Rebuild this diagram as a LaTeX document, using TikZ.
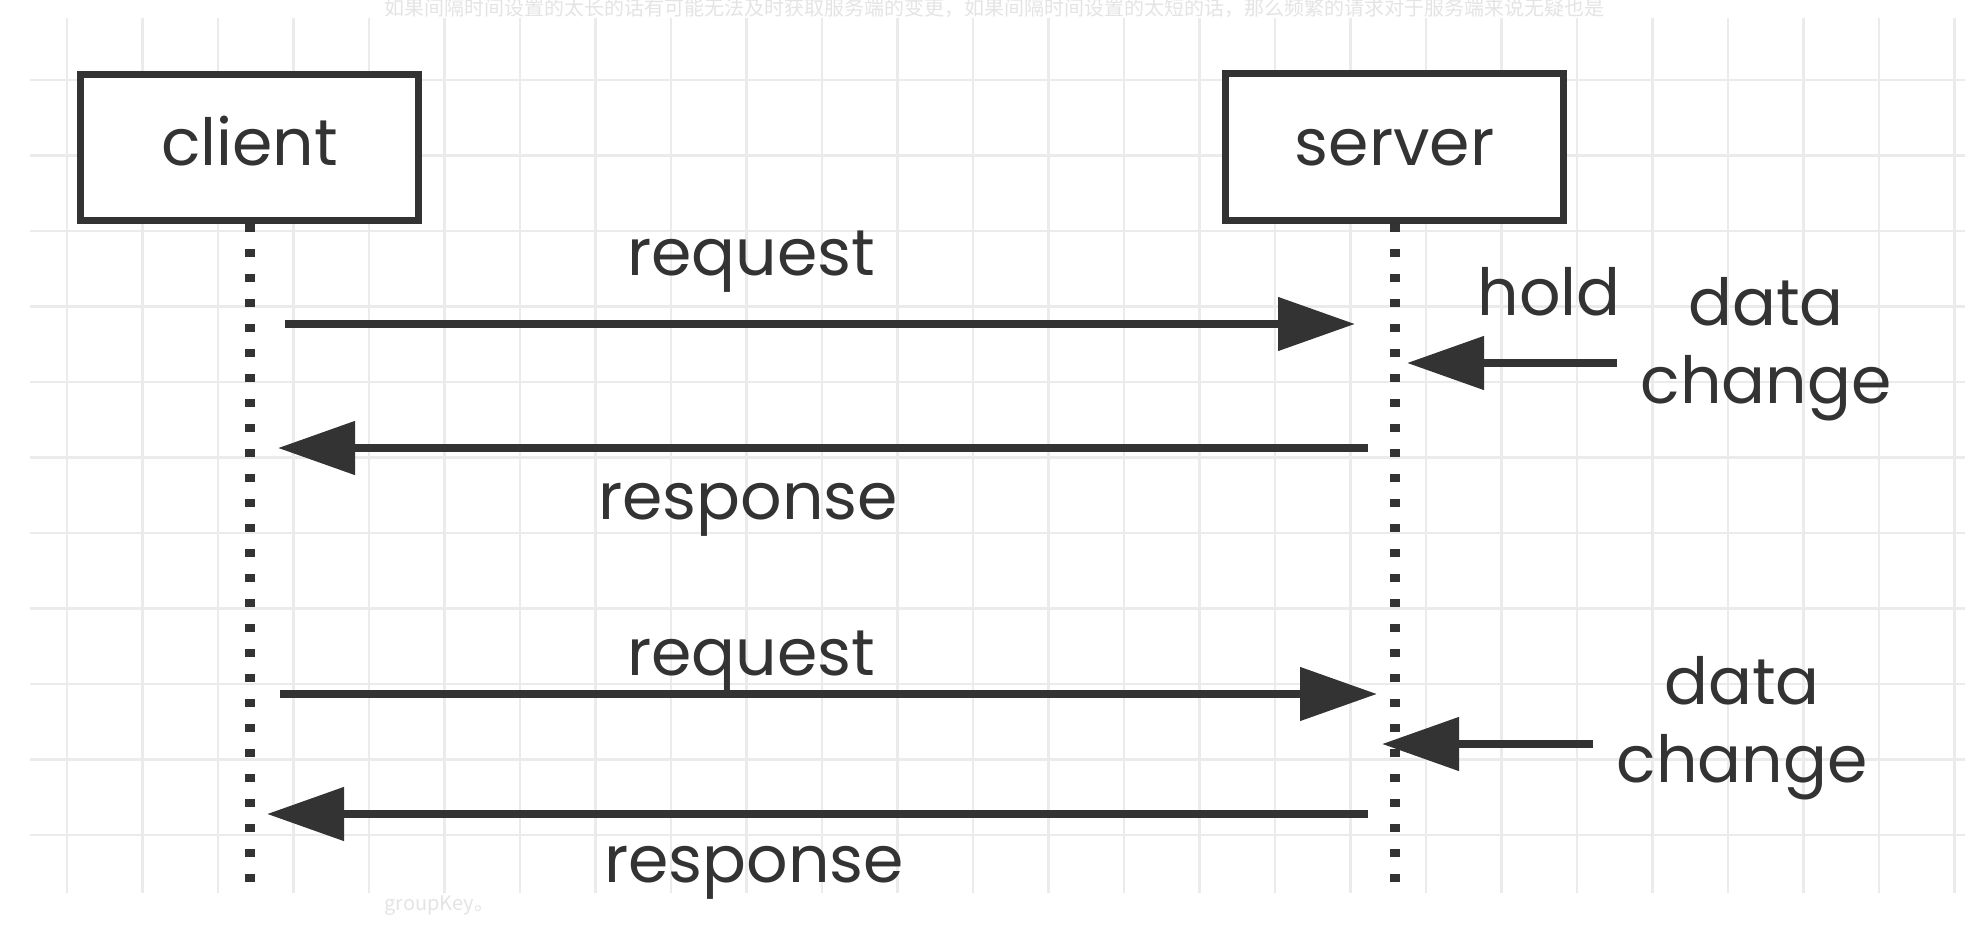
\documentclass[tikz,border=0pt]{standalone}
\usepackage{fontspec}
\setmainfont{Poppins}
\newfontfamily\cjk{Noto Sans CJK SC}
\usetikzlibrary{arrows.meta}
\definecolor{ink}{HTML}{333333}
\definecolor{gridc}{HTML}{EBEBEB}
\definecolor{ghost}{HTML}{E4E4E4}
\begin{document}
\begin{tikzpicture}[x=1pt,y=-1pt,
  actor/.style={draw=ink, line width=7pt, fill=white, minimum width=338pt, minimum height=146pt, inner sep=0pt, text height=36pt, text depth=0pt, font=\fontsize{65}{78}\selectfont, text=ink},
  lifeline/.style={draw=ink, line width=10pt, dash pattern=on 8pt off 17pt},
  msg/.style={draw=ink, line width=8pt, -{Triangle[length=77pt,width=52pt]}},
  lbl/.style={font=\fontsize{65}{78}\selectfont, text=ink, inner sep=0pt, anchor=base},
  gridline/.style={draw=gridc, line width=2.5pt},
  ghosttext/.style={font=\cjk\fontsize{20}{24}\selectfont, text=ghost, inner sep=0pt, anchor=base west}
]
\useasboundingbox (0,0) rectangle (1987,939);
\fill[white] (0,0) rectangle (1987,939);
\foreach \k in {0,...,25} \draw[gridline] ({67+75.5*\k},18) -- ({67+75.5*\k},893);
\foreach \k in {0,...,10} \draw[gridline] (30,{80+75.5*\k}) -- (1965,{80+75.5*\k});

\node[actor] (client) at (249.5,147.5) {client};
\node[actor] (server) at (1394.5,147) {server};
\coordinate (cend) at (249.5,884);
\coordinate (send) at (1394.5,884);
\draw[lifeline] (client.south) -- (cend);
\draw[lifeline] (server.south) -- (send);

\coordinate (cR1) at (249.5,324); \coordinate (sR1) at (1394.5,324);
\coordinate (sA1) at (1394.5,448); \coordinate (cA1) at (249.5,448);
\coordinate (dc1) at (1617,363); \coordinate (sD1) at (1394.5,363);
\coordinate (cR2) at (249.5,694); \coordinate (sR2) at (1394.5,694);
\coordinate (dc2) at (1593,744); \coordinate (sD2) at (1394.5,744);
\coordinate (sA2) at (1394.5,814); \coordinate (cA2) at (249.5,814);

\draw[msg, shorten <=35.5pt, shorten >=39.5pt] (cR1) -- (sR1);
\draw[msg, shorten <=26.5pt, shorten >=28.5pt] (sA1) -- (cA1);
\draw[msg, shorten >=12.5pt] (dc1) -- (sD1);
\draw[msg, shorten <=30.5pt, shorten >=17.5pt] (cR2) -- (sR2);
\draw[msg, shorten >=-12.5pt] (dc2) -- (sD2);
\draw[msg, shorten <=26.5pt, shorten >=17.5pt] (sA2) -- (cA2);

\node[lbl] (req1) at (751,275) {request};
\node[lbl] (resp1) at (748,519) {response};
\node[lbl] (req2) at (751,675) {request};
\node[lbl] (resp2) at (754,882) {response};
\node[lbl] (hold) at (1549,315) {hold};
\node[lbl, align=center] (dch1) at (1766,403) {data\\change};
\node[lbl, align=center] (dch2) at (1742,782) {data\\change};

\node[ghosttext] (note) at (384,16) {如果间隔时间设置的太长的话有可能无法及时获取服务端的变更，如果间隔时间设置的太短的话，那么频繁的请求对于服务端来说无疑也是};
\node[ghosttext] (gk) at (384,910) {groupKey。};
\end{tikzpicture}
\end{document}
